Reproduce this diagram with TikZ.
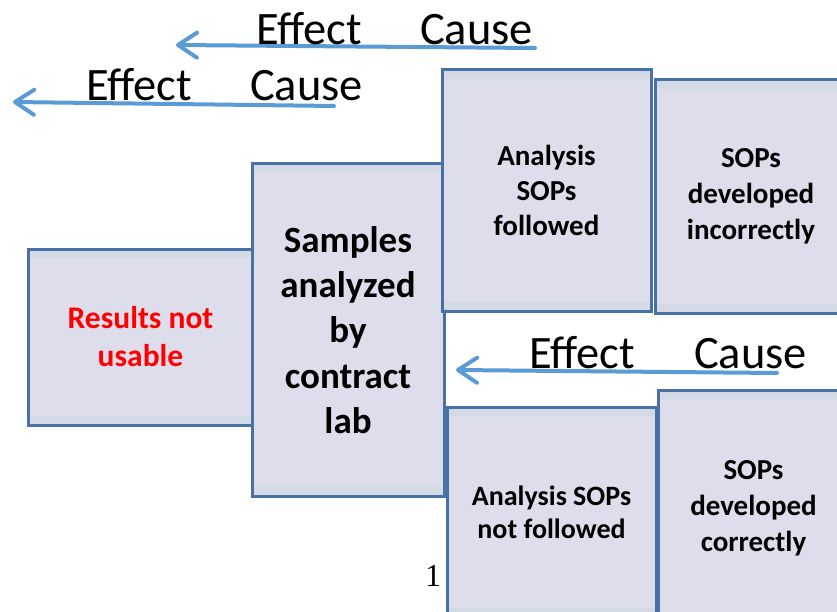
\documentclass[tikz,border=0pt]{standalone}
\usepackage{fontspec}
\setmainfont{Carlito}
\newfontfamily\pagefont{Liberation Serif}
\usetikzlibrary{arrows.meta}

\definecolor{boxfill}{RGB}{221,221,236}
\definecolor{boxband}{RGB}{212,218,228}
\definecolor{boxline}{RGB}{72,114,165}
\definecolor{arrowblue}{RGB}{91,155,213}

\tikzset{
  causebox/.style={rectangle,draw=boxline,line width=3pt,fill=boxfill,
    align=center,font=\bfseries\fontsize{29}{35}\selectfont,inner sep=0pt,
    path picture={
      \fill[boxband] (path picture bounding box.north west)
        rectangle ([yshift=-9pt]path picture bounding box.north east);
      \fill[boxband] (path picture bounding box.south west)
        rectangle ([yshift=9pt]path picture bounding box.south east);
    }},
  effarrow/.style={draw=arrowblue,line width=4pt,line cap=round,
    -{Straight Barb[length=19pt,width=25pt,line width=4pt,round]}},
  arrowtext/.style={anchor=base west,inner sep=0pt,
    font=\fontsize{46.5}{54}\selectfont},
}

\begin{document}
\begin{tikzpicture}[x=1pt,y=-1pt]
  \useasboundingbox (0,0) rectangle (837,612);
  \clip (0,0) rectangle (837,612);

  % effect <- cause arrows
  \coordinate (c1) at (535,48);
  \coordinate (e1) at (176,45);
  \draw[effarrow] (c1) -- (e1);
  \node[arrowtext] (eff1) at (256,45) {Effect};
  \node[arrowtext] (cau1) at (420,45) {Cause};

  \coordinate (c2) at (334,106);
  \coordinate (e2) at (13,102);
  \draw[effarrow] (c2) -- (e2);
  \node[arrowtext] (eff2) at (86,101) {Effect};
  \node[arrowtext] (cau2) at (250,101) {Cause};

  \coordinate (c3) at (777,373);
  \coordinate (e3) at (456,370);
  \draw[effarrow] (c3) -- (e3);
  \node[arrowtext] (eff3) at (529,368) {Effect};
  \node[arrowtext] (cau3) at (694,368) {Cause};

  % boxes
  \node[causebox,minimum width=225pt,minimum height=176pt,
    text=red,font=\bfseries\fontsize{31.5}{38}\selectfont]
    (results) at (140.5,337) {Results not\\usable};
  \node[causebox,minimum width=192pt,minimum height=332pt,
    font=\bfseries\fontsize{37}{45.3}\selectfont]
    (samples) at (348,330) {Samples\\analyzed\\by\\contract\\lab};
  \node[causebox,minimum width=209pt,minimum height=241pt]
    (followed) at (546.5,190.5) {Analysis\\SOPs\\followed};
  \node[causebox,minimum width=192pt,minimum height=233pt,
    font=\bfseries\fontsize{29}{36}\selectfont]
    (incorrect) at (751,196.5) {SOPs\\developed\\incorrectly};
  \node[causebox,minimum width=209pt,minimum height=210pt,
    font=\bfseries\fontsize{28}{33}\selectfont]
    (notfollowed) at (551.5,512) {Analysis SOPs\\not followed};
  \node[causebox,minimum width=191pt,minimum height=236pt,
    font=\bfseries\fontsize{29}{36}\selectfont]
    (correct) at (753.5,508) {SOPs\\developed\\correctly};

  \node[anchor=base,inner sep=0pt,font=\pagefont\fontsize{32}{36}\selectfont]
    (pagenum) at (433,586) {1};
\end{tikzpicture}
\end{document}
